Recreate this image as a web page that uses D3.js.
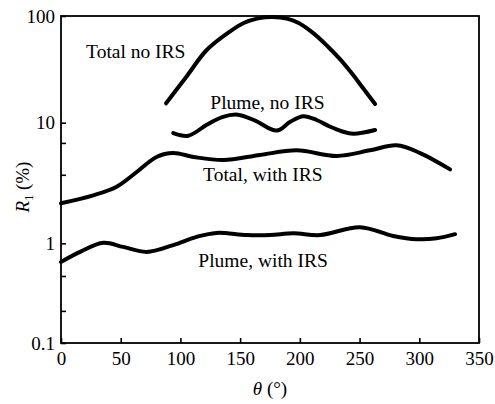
<!DOCTYPE html>
<html>
<head>
<meta charset="utf-8">
<script src="https://cdn.jsdelivr.net/npm/d3@7"></script>
<style>
  html, body { margin: 0; padding: 0; background: #fff; }
</style>
</head>
<body>
<div id="chart"></div>
<script>
// theta (deg) / R1 (%) pairs
const totalNoIrsTheta = [88, 105, 122, 141, 153, 165, 177, 190, 199, 212, 224, 234, 243.5, 253, 263];
const totalNoIrsR = [15.2, 27, 48, 71, 86, 95, 98, 94, 86, 68, 51, 39, 29, 21, 15];

const plumeNoIrsTheta = [94, 106.6, 122, 135, 148, 163, 180.6, 192, 203, 214, 225, 235, 244.8, 263];
const plumeNoIrsR = [8.2, 7.8, 9.6, 11.3, 11.9, 10.4, 8.6, 10.2, 11.5, 10.6, 9.3, 8.5, 8.1, 8.7];

const totalIrsTheta = [0, 27, 46.6, 63.4, 80, 94, 111, 136, 166.7, 197.4, 231, 258.8, 281, 300.7, 325.8];
const totalIrsR = [2.15, 2.5, 2.95, 3.9, 5.2, 5.6, 5.2, 4.9, 5.4, 5.9, 5.3, 5.9, 6.5, 5.6, 4.1];

const plumeIrsTheta = [0, 16, 35.4, 52, 71.8, 94, 113.6, 130, 155.5, 175, 194.6, 217, 250.4, 278, 298, 314.6, 330];
const plumeIrsR = [0.65, 0.82, 1.01, 0.92, 0.82, 0.96, 1.13, 1.22, 1.17, 1.17, 1.21, 1.17, 1.36, 1.15, 1.08, 1.1, 1.19];

const xTicks = [0, 50, 100, 150, 200, 250, 300, 350];
const yTicks = [0.1, 1, 10, 100];
const yTickLabels = ["0.1", "1", "10", "100"];
const yMinorTicks = [0.21, 0.47, 2.2, 3.7, 6.8];

const labels = [
    { text: "Total no IRS", theta: 21, r: 40 },
    { text: "Plume, no IRS", theta: 125, r: 13.5 },
    { text: "Total, with IRS", theta: 119, r: 3.3 },
    { text: "Plume, with IRS", theta: 115, r: 0.58 }
];

const width = 495, height = 404;
const plotLeft = 61, plotRight = 479, plotTop = 16, plotBottom = 343;
const serif = "Liberation Serif";

const svg = d3.select("#chart")
    .append("svg")
    .attr("width", width)
    .attr("height", height)
    .attr("font-family", serif);

const x = d3.scaleLinear().domain([0, 350]).range([plotLeft, plotRight]);
// the printed decades are not equally tall, so the log scale is piecewise
const y = d3.scaleLog().domain([0.1, 1, 10, 100]).range([plotBottom, 243.3, 122.7, plotTop]);

// frame
svg.append("rect")
    .attr("x", plotLeft)
    .attr("y", plotTop)
    .attr("width", plotRight - plotLeft)
    .attr("height", plotBottom - plotTop)
    .attr("fill", "none")
    .attr("stroke", "#000")
    .attr("stroke-width", 1.8);

const xAxis = svg.append("g")
    .attr("transform", `translate(0,${plotBottom})`)
    .call(d3.axisBottom(x).tickValues(xTicks).tickSizeInner(-5).tickSizeOuter(0).tickPadding(9));

const yAxis = svg.append("g")
    .attr("transform", `translate(${plotLeft},0)`)
    .call(d3.axisLeft(y).tickValues(yTicks).tickFormat((d, i) => yTickLabels[i])
        .tickSizeInner(-5).tickSizeOuter(0).tickPadding(6));

const yMinor = svg.append("g")
    .attr("transform", `translate(${plotLeft},0)`)
    .call(d3.axisLeft(y).tickValues(yMinorTicks).tickFormat("").tickSizeInner(-5).tickSizeOuter(0));

[xAxis, yAxis, yMinor].forEach(g => {
    g.attr("font-family", serif).attr("font-size", 19);
    g.select(".domain").remove();
    g.selectAll("line").attr("stroke", "#000").attr("stroke-width", 1.6);
    g.selectAll("text").attr("fill", "#000");
});

const line = d3.line()
    .x(d => x(d[0]))
    .y(d => y(d[1]))
    .curve(d3.curveCatmullRom.alpha(0.5));

const series = [
    d3.zip(totalNoIrsTheta, totalNoIrsR),
    d3.zip(plumeNoIrsTheta, plumeNoIrsR),
    d3.zip(totalIrsTheta, totalIrsR),
    d3.zip(plumeIrsTheta, plumeIrsR)
];

series.forEach(s => {
    svg.append("path")
        .datum(s)
        .attr("d", line)
        .attr("fill", "none")
        .attr("stroke", "#000")
        .attr("stroke-width", 4)
        .attr("stroke-linecap", "round")
        .attr("stroke-linejoin", "round");
});

labels.forEach(l => {
    svg.append("text")
        .attr("x", x(l.theta))
        .attr("y", y(l.r))
        .attr("font-size", 19.5)
        .text(l.text);
});

// axis titles
svg.append("text")
    .attr("x", 270)
    .attr("y", 395)
    .attr("text-anchor", "middle")
    .attr("font-size", 19)
    .html('<tspan font-style="italic">θ</tspan> (°)');

svg.append("text")
    .attr("transform", "translate(29,187) rotate(-90)")
    .attr("text-anchor", "middle")
    .attr("font-size", 19)
    .html('<tspan font-style="italic">R</tspan><tspan font-size="12" dy="4">1</tspan><tspan dy="-4"> (%)</tspan>');
</script>
</body>
</html>
